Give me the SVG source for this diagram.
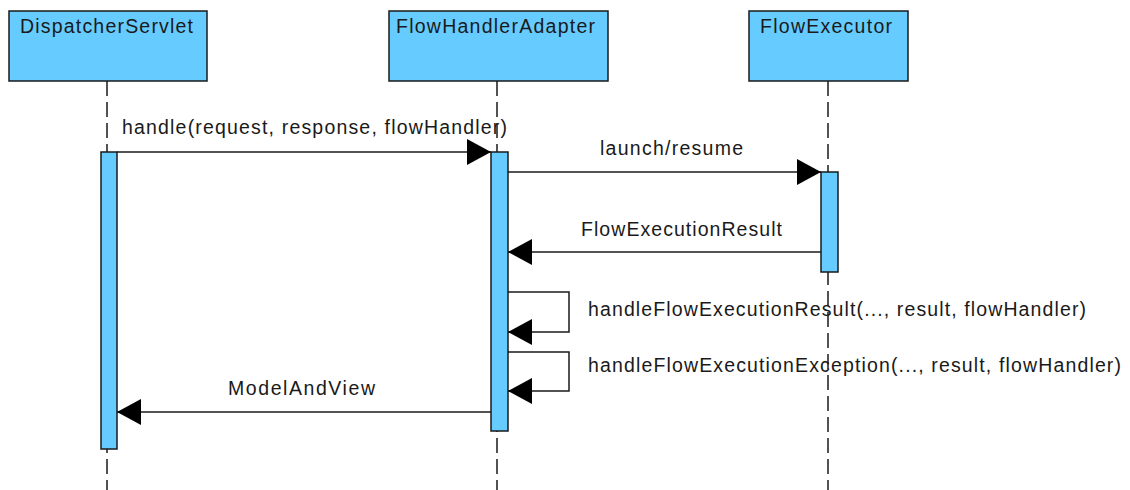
<svg xmlns="http://www.w3.org/2000/svg" width="1130" height="490" viewBox="0 0 1130 490">
  <style>
    .head { fill: #66CCFF; stroke: #1a1a1a; stroke-width: 1.5; }
    .bar { fill: #66CCFF; stroke: #1a1a1a; stroke-width: 1.5; }
    .life { stroke: #1a1a1a; stroke-width: 1.5; stroke-dasharray: 15 6; fill: none; }
    .msg { stroke: #1a1a1a; stroke-width: 1.5; fill: none; marker-end: url(#arrow); }
    text { font-family: "Liberation Sans", Arial, sans-serif; font-size: 19.5px; fill: #1a1a1a; }
  </style>
  <defs>
    <marker id="arrow" markerUnits="userSpaceOnUse" markerWidth="26" markerHeight="28" viewBox="0 0 26 28" refX="25" refY="14" orient="auto">
      <path d="M1,1 L25,14 L1,27 Z" fill="#000"/>
    </marker>
  </defs>
  <rect width="1130" height="490" fill="#fff"/>

  <!-- lifeline: DispatcherServlet -->
  <g id="dispatcherServlet">
    <line class="life" x1="107" y1="81" x2="107" y2="490"/>
    <rect class="head" x="9" y="11" width="198" height="70"/>
    <text x="20" y="33" textLength="173" lengthAdjust="spacing">DispatcherServlet</text>
    <rect class="bar" x="101" y="152" width="16" height="297"/>
  </g>

  <!-- lifeline: FlowHandlerAdapter -->
  <g id="flowHandlerAdapter">
    <line class="life" x1="497" y1="81" x2="497" y2="490"/>
    <rect class="head" x="389" y="11" width="219" height="70"/>
    <text x="396" y="33" textLength="199" lengthAdjust="spacing">FlowHandlerAdapter</text>
    <rect class="bar" x="491" y="152" width="17" height="279"/>
  </g>

  <!-- lifeline: FlowExecutor -->
  <g id="flowExecutor">
    <line class="life" x1="828" y1="81" x2="828" y2="490"/>
    <rect class="head" x="749" y="11" width="159" height="70"/>
    <text x="760" y="33" textLength="132" lengthAdjust="spacing">FlowExecutor</text>
    <rect class="bar" x="821" y="172" width="17" height="100"/>
  </g>

  <!-- messages -->
  <g id="connectors">
    <line class="msg" x1="117" y1="152" x2="491" y2="152"/>
    <text x="122" y="134" textLength="385" lengthAdjust="spacing">handle(request, response, flowHandler)</text>

    <line class="msg" x1="508" y1="172" x2="821" y2="172"/>
    <text x="600" y="155" textLength="143" lengthAdjust="spacing">launch/resume</text>

    <line class="msg" x1="821" y1="252" x2="508" y2="252"/>
    <text x="581" y="236" textLength="201" lengthAdjust="spacing">FlowExecutionResult</text>

    <polyline class="msg" points="508,292 569,292 569,332 508,332"/>
    <text x="588" y="316" textLength="498" lengthAdjust="spacing">handleFlowExecutionResult(..., result, flowHandler)</text>

    <polyline class="msg" points="508,352 569,352 569,391 508,391"/>
    <text x="588" y="372" textLength="533" lengthAdjust="spacing">handleFlowExecutionException(..., result, flowHandler)</text>

    <line class="msg" x1="491" y1="412" x2="117" y2="412"/>
    <text x="228" y="395" textLength="147" lengthAdjust="spacing">ModelAndView</text>
  </g>
</svg>
